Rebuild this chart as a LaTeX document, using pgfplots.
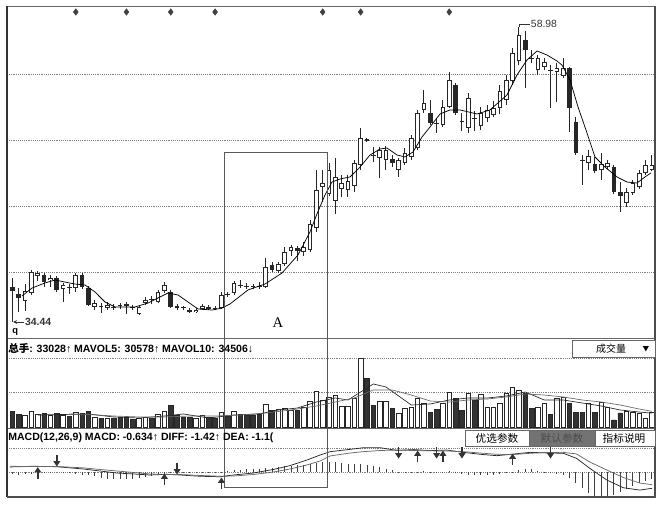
\documentclass[border=0pt]{standalone}
\usepackage{fontspec}
\setmainfont{Liberation Sans}
\newfontfamily\cjk{Noto Sans CJK SC}
\newfontfamily\seriffont{Liberation Serif}
\usepackage{pgfplots}
\pgfplotsset{compat=1.18}
\usepackage{pgfplotstable}
\usetikzlibrary{arrows.meta}

\pgfplotstableread{
i O C H L d V
0 36.98 36.64 37.74 34.44 0 34.1
1 36.39 36.05 36.89 34.86 0 27.7
2 35.79 36.64 37.23 34.95 1 25.6
3 36.47 38.25 38.42 36.30 1 34.1
4 37.91 38.16 38.33 37.49 1 27.7
5 38.00 37.40 38.16 36.98 0 29.8
6 37.57 37.74 38.00 36.98 1 25.6
7 37.74 36.73 37.91 36.56 0 29.8
8 36.81 37.15 37.32 35.71 1 25.6
9 36.89 36.98 37.23 36.39 0 23.4
10 36.89 38.00 38.16 36.56 1 32.0
11 38.00 36.98 38.16 36.81 0 29.8
12 36.89 35.46 37.06 35.37 0 34.1
13 35.29 35.62 35.88 35.03 1 21.3
14 35.29 35.37 35.62 34.78 0 19.2
15 35.20 35.46 35.71 35.03 1 19.2
16 35.29 35.20 35.54 35.03 0 19.2
17 35.37 35.46 35.62 35.12 0 21.3
18 35.54 35.37 35.71 34.70 0 21.3
19 35.20 35.29 35.46 35.03 0 17.0
20 34.70 35.29 35.37 34.61 1 19.2
21 35.62 35.88 36.13 35.46 1 21.3
22 35.88 35.96 36.22 35.54 0 19.2
23 35.71 36.56 36.73 35.62 1 27.7
24 36.64 37.15 37.40 36.47 1 34.1
25 36.56 35.29 36.73 35.20 0 46.9
26 35.37 35.20 35.54 35.03 0 25.6
27 35.20 35.29 35.37 35.03 0 21.3
28 35.03 34.86 35.20 34.78 0 21.3
29 34.86 35.03 35.20 34.78 1 19.2
30 35.12 35.37 35.54 35.03 1 25.6
31 35.29 35.12 35.46 35.03 0 21.3
32 35.20 35.12 35.37 35.03 0 19.2
33 35.20 36.30 36.56 35.12 1 32.0
34 36.30 36.39 36.56 36.13 0 23.4
35 36.47 37.32 37.49 36.30 1 34.1
36 37.06 37.15 37.57 36.89 0 27.7
37 36.98 37.06 37.32 36.81 0 25.6
38 36.98 37.06 37.23 36.81 0 25.6
39 36.98 37.06 37.40 36.81 0 27.7
40 36.98 38.67 39.43 36.89 1 49.0
41 38.84 38.42 39.09 38.25 0 36.2
42 38.33 38.93 39.09 38.16 1 38.3
43 38.93 39.94 40.36 38.76 1 40.5
44 40.03 40.36 40.53 39.60 1 36.2
45 40.28 40.03 40.45 39.18 0 36.2
46 39.94 40.36 40.79 39.60 1 42.6
47 40.11 42.31 42.65 39.94 1 55.4
48 41.97 45.19 46.88 41.63 1 76.7
49 45.44 45.78 46.88 44.17 1 57.5
50 44.85 46.88 47.47 44.68 1 63.9
51 44.26 46.29 47.90 43.16 1 68.2
52 45.27 45.78 46.46 44.59 1 44.7
53 45.19 45.95 46.46 44.59 1 44.7
54 45.52 47.47 47.73 45.02 1 61.8
55 47.30 49.59 50.43 46.88 1 147.0
56 49.50 49.33 49.59 49.25 0 104.4
57 48.15 48.06 48.83 47.56 0 46.9
58 47.90 48.57 48.83 46.20 1 55.4
59 47.73 48.57 48.91 46.88 1 55.4
60 47.81 47.47 48.15 47.13 0 40.5
61 46.88 47.73 47.90 46.29 1 29.8
62 47.47 48.32 48.74 47.30 1 40.5
63 47.98 49.59 49.84 47.73 1 42.6
64 48.74 51.70 51.96 48.57 1 61.8
65 51.96 52.55 53.65 51.70 1 51.1
66 51.70 50.86 52.80 50.69 0 32.0
67 50.86 50.77 51.28 50.01 0 38.3
68 50.69 52.21 52.80 50.52 1 51.1
69 52.21 54.50 55.17 52.13 1 74.6
70 54.07 51.70 54.24 51.53 0 61.8
71 51.03 50.94 51.70 50.18 0 36.2
72 50.43 52.97 53.40 50.01 1 72.4
73 51.28 51.20 51.87 50.18 0 57.5
74 50.60 51.70 52.21 50.26 1 70.3
75 51.28 51.96 52.38 50.94 1 42.6
76 51.53 52.13 52.72 51.36 1 42.6
77 52.13 53.57 54.07 51.62 1 51.1
78 52.80 54.50 54.92 52.38 1 72.4
79 54.41 56.78 57.20 54.07 1 85.2
80 56.10 58.30 58.98 55.76 1 78.8
81 57.88 57.03 58.64 53.82 0 72.4
82 56.36 56.28 57.03 55.93 0 40.5
83 55.34 56.36 56.61 54.92 1 42.6
84 55.60 56.02 56.36 55.34 1 51.1
85 55.34 55.26 55.76 52.13 0 27.7
86 55.17 55.51 55.93 52.63 1 61.8
87 54.83 55.51 56.36 54.67 1 63.9
88 55.51 52.13 55.60 50.10 0 51.1
89 50.94 48.32 51.36 48.15 0 32.0
90 47.73 47.64 48.15 45.61 0 32.0
91 47.47 48.06 48.57 46.88 1 51.1
92 47.39 46.79 47.98 46.63 0 32.0
93 46.88 47.39 48.32 46.03 1 53.3
94 47.13 47.47 47.73 46.96 1 42.6
95 47.13 45.02 47.30 44.85 0 16.0
96 45.02 44.68 45.86 43.33 0 30.9
97 44.09 45.02 45.36 43.75 1 34.1
98 44.93 45.78 46.03 44.77 1 32.0
99 45.44 46.63 46.88 45.27 1 29.8
100 46.63 47.30 47.73 46.46 1 19.2
101 46.88 47.30 48.15 46.79 1 33.0
}\candles

\pgfplotstableread{
i p
1.5 36.22
3.08 36.89
5.13 37.32
6.71 37.57
8.29 37.40
9.87 37.23
11.45 37.15
13.03 36.56
14.61 35.71
16.19 35.29
19.35 35.29
21.41 35.62
22.99 36.05
24.57 36.47
26.15 36.30
27.73 35.71
29.30 35.12
31.52 35.03
33.10 35.20
34.36 35.54
37.20 36.73
39.89 37.23
42.57 38.16
45.10 39.69
46.99 41.63
48.10 43.16
49.37 44.77
50.47 45.86
51.74 46.12
53.32 46.29
54.90 47.13
56.48 48.15
58.06 48.66
59.16 48.74
60.74 48.15
62.01 47.98
63.27 48.40
64.69 49.67
65.96 50.52
67.54 51.62
69.12 51.96
70.70 51.96
73.38 51.62
75.43 51.96
78.12 53.23
79.70 54.92
81.28 56.19
82.86 56.95
84.44 56.61
86.02 56.10
86.81 55.76
88.07 54.50
89.34 52.21
90.76 50.01
92.02 47.98
93.60 47.13
95.50 46.29
97.08 45.86
98.66 45.78
99.92 46.29
100.87 46.63
}\ma

\pgfplotstableread{
i y
10 60.25
18 60.25
25 60.25
32 60.25
49 60.25
55 60.25
69 60.25
}\diam

\pgfplotstableread{
i v
4 26.6
8 27.7
12 28.8
16 22.4
20 20.2
24 24.5
27 28.8
31 20.2
35 26.6
39 28.8
42 37.3
45 41.5
48 54.3
51 62.8
53 58.6
55 75.6
57 92.7
59 86.3
61 67.1
63 47.9
66 50.1
69 58.6
72 62.8
75 62.8
78 67.1
81 75.6
84 58.6
87 58.6
90 52.2
93 45.8
96 37.3
99 33.0
101 30.6
}\mavfive

\pgfplotstableread{
i v
9 28.8
12 27.7
16 24.5
20 22.4
24 22.4
28 24.5
32 24.5
36 26.6
40 30.9
44 37.3
48 45.8
51 54.3
54 62.8
57 79.9
60 79.9
63 69.2
66 56.4
69 54.3
72 58.6
75 60.7
78 65.0
81 71.4
84 69.2
87 65.0
90 58.6
93 54.3
96 47.9
99 39.4
101 34.5
}\mavten

\pgfplotstableread{
i diff dea
-0.4 0.44 0.50
3.3 0.50 0.47
7 0.46 0.48
11.2 0.26 0.36
13.8 0.09 0.22
16.5 -0.09 0.09
19.1 -0.17 -0.04
21.7 -0.26 -0.17
24.4 -0.20 -0.22
26.5 -0.26 -0.22
29.6 -0.37 -0.30
32.8 -0.41 -0.37
34.9 -0.26 -0.35
38 -0.09 -0.22
41.2 0.22 0.00
43.8 0.55 0.26
46.5 1.04 0.61
48.6 1.48 0.96
50.2 1.77 1.40
53.3 1.97 1.65
55.4 2.11 1.77
58.1 2.11 1.87
60.7 1.88 1.91
63.4 1.95 1.87
66 1.86 1.84
68.6 1.91 1.83
71.2 1.71 1.77
73.9 1.54 1.65
76.5 1.42 1.54
79.1 1.56 1.52
81.8 1.71 1.63
84.4 1.66 1.70
87 1.63 1.71
89.1 1.19 1.57
91.2 0.32 0.87
93.9 -0.70 0.17
96.5 -1.37 -0.48
99.1 -1.57 -0.96
101 -1.42 -1.10
}\macdl

\pgfplotstableread{
i h
0 -0.17
1 -0.22
2 -0.17
3 -0.13
4 0.04
5 0.04
6 0.03
7 0
8 -0.04
9 -0.09
10 -0.13
11 -0.22
12 -0.30
13 -0.39
14 -0.48
15 -0.57
16 -0.61
17 -0.65
18 -0.61
19 -0.57
20 -0.52
21 -0.44
22 -0.35
23 -0.22
24 -0.13
25 -0.09
26 -0.07
27 -0.04
28 -0.07
29 -0.09
30 -0.04
31 -0.03
32 -0.04
33 0.04
34 0.10
35 0.17
36 0.19
37 0.22
38 0.26
39 0.30
40 0.35
41 0.39
42 0.44
43 0.48
44 0.52
45 0.57
46 0.61
47 0.70
48 0.78
49 0.83
50 0.87
51 0.83
52 0.78
53 0.74
54 0.70
55 0.70
56 0.61
57 0.52
58 0.44
59 0.30
60 0.17
61 0.04
62 0.03
63 -0.04
64 0.04
65 0.07
66 0.03
67 -0.03
68 0.04
69 0.09
70 -0.04
71 -0.13
72 -0.22
73 -0.26
74 -0.30
75 -0.30
76 -0.26
77 -0.17
78 -0.09
79 0.04
80 0.17
81 0.26
82 0.22
83 0.13
84 0.04
85 -0.09
86 -0.17
87 -0.26
88 -0.52
89 -0.96
90 -1.39
91 -1.83
92 -2.18
93 -2.18
94 -2.18
95 -2.00
96 -1.74
97 -1.48
98 -1.22
99 -0.96
100 -0.78
101 -0.63
}\hist

\pgfplotstableread{
i y dv
4 -0.57 1.0
24 -1.13 1.0
33 -1.48 1.0
64 0.87 1.0
68 0.87 1.0
79 0.61 1.0
7 1.48 -1.0
26 0.78 -1.0
61 2.17 -1.0
67 2.17 -1.0
71 2.17 -1.0
85 2.17 -1.0
}\arrtab

\pgfplotsset{panel/.style={scale only axis, anchor=north west, width=486pt,
  xmin=-0.869, xmax=101.5, xtick=\empty, yticklabels={}, major tick length=0pt,
  ymajorgrids, grid style={black!50, densely dotted, line width=0.5pt},
  axis line style={black!60, line width=0.6pt}, clip=true},
  candle/.style={draw=none, mark=none, error bars/.cd, y dir=plus, y explicit,
  error mark=none}}

\begin{document}
\begin{tikzpicture}
\path[use as bounding box] (0pt,0pt) rectangle (497.25pt,-382.5pt);

% main price panel
\begin{axis}[panel, at={(5.25pt,-4.5pt)}, height=249pt, ymin=32.663, ymax=60.757,
  ytick={38.25,43.83,49.42,55.00}]
\addplot[candle, error bar style={draw=black!85, line width=0.75pt}]
  table[x=i, y=L, y error expr=\thisrow{H}-\thisrow{L}] {\candles};
\addplot[candle, error bar style={draw=black!85, line width=3.5pt}]
  table[x=i, y expr={min(\thisrow{O},\thisrow{C})}, y error expr={abs(\thisrow{C}-\thisrow{O})}] {\candles};
\addplot[restrict expr to domain={\thisrow{d}}{1:1}, candle,
  error bar style={draw=white, line width=2.1pt}]
  table[x=i, y expr=\thisrow{O}+0.07, y error expr=\thisrow{C}-\thisrow{O}-0.14] {\candles};
\addplot[black, line width=0.55pt] table[x=i, y=p] {\ma};
\addplot[only marks, mark=diamond*, mark size=2.4pt, black!75] table[x=i, y=y] {\diam};
\draw[black!80, line width=0.5pt] (axis cs:80,58.98) -- ([yshift=2.25pt]axis cs:80,58.98)
  -- ([xshift=8pt,yshift=2.25pt]axis cs:80,58.98)
  node[right, inner sep=0.8pt, font=\fontsize{7.8}{9}\selectfont] {58.98};
\draw[black!80, line width=0.6pt] (axis cs:0,34.44) -- ([yshift=-3.9pt]axis cs:0,34.44);
\draw[black!80, line width=0.6pt, {Stealth[length=3pt,width=3pt]}-]
  ([xshift=0.4pt,yshift=-3.75pt]axis cs:0,34.44) -- ([xshift=8.4pt,yshift=-3.75pt]axis cs:0,34.44)
  node[right, inner sep=0.8pt, font=\bfseries\fontsize{7.8}{9}\selectfont] {34.44};
\end{axis}

% volume panel
\begin{axis}[panel, at={(5.25pt,-253.5pt)}, height=67.5pt, ymin=-1.07, ymax=190.6,
  ytick={75.6,148.0}]
\addplot[ybar, bar width=3.4pt, bar shift=0pt, fill=black!80, draw=black!85, line width=0.5pt,
  restrict expr to domain={\thisrow{d}}{0:0}] table[x=i, y=V] {\candles};
\addplot[ybar, bar width=3.4pt, bar shift=0pt, fill=white, draw=black!85, line width=0.6pt,
  restrict expr to domain={\thisrow{d}}{1:1}] table[x=i, y=V] {\candles};
\addplot[black!85, line width=0.5pt] table[x=i, y=v] {\mavfive};
\addplot[black!60, line width=0.5pt] table[x=i, y=v] {\mavten};
\end{axis}

% MACD panel
\begin{axis}[panel, at={(5.25pt,-321pt)}, height=51.75pt, ymin=-2.175, ymax=3.828,
  ytick={0,2.088}]
\addplot[ycomb, black!75, line width=0.7pt] table[x=i, y=h] {\hist};
\addplot[black!85, line width=0.55pt] table[x=i, y=diff] {\macdl};
\addplot[black!60, line width=0.55pt] table[x=i, y=dea] {\macdl};
\addplot[quiver={u=0, v=\thisrow{dv}}, -{Triangle[width=5pt,length=4pt]},
  line width=1.2pt, black!80] table[x=i, y=y] {\arrtab};
\end{axis}

\begin{scope}[x=0.75pt, y=-0.75pt]
\draw[black!80, line width=1.3pt] (7,6) -- (7,497);
\draw[black!70, line width=1.2pt] (655,6) -- (655,497);
\draw[black!70, line width=1pt] (7,497) -- (655,497);
\draw[black!65, line width=0.7pt] (224,152) rectangle (327,487);
\node[font=\seriffont\fontsize{11}{12}\selectfont] at (278,323) {A};
\node[anchor=west, font=\bfseries\fontsize{7}{8}\selectfont, inner sep=0] at (12,332) {q};
\node[anchor=west, inner sep=0, font=\bfseries\fontsize{7.9}{9}\selectfont] at (8,348)
  {{\cjk 总手}: 33028↑ MAVOL5: 30578↑ MAVOL10: 34506↓};
\node[anchor=west, inner sep=0, font=\bfseries\fontsize{7.9}{9}\selectfont] at (8,438)
  {MACD(12,26,9) MACD: -0.634↑ DIFF: -1.42↑ DEA: -1.1(};
% volume selector
\draw[black!60, fill=white, line width=0.6pt] (572,340) rectangle (655,357);
\node[font=\cjk\fontsize{7.5}{9}\selectfont] at (611,349) {成交量};
\node[font=\cjk\fontsize{5}{6}\selectfont] at (646,349) {▼};
% buttons
\draw[black!60, fill=white, line width=0.6pt] (465,430) rectangle (529,446);
\draw[black!60, fill=black!55, line width=0.6pt] (529,430) rectangle (595,446);
\draw[black!60, fill=white, line width=0.6pt] (595,430) rectangle (655,446);
\node[font=\cjk\fontsize{8}{9}\selectfont] at (497,438) {优选参数};
\node[font=\cjk\fontsize{8}{9}\selectfont, text=black!70] at (562,438) {默认参数};
\node[font=\cjk\fontsize{8}{9}\selectfont] at (624,438) {指标说明};
\end{scope}
\end{tikzpicture}
\end{document}
